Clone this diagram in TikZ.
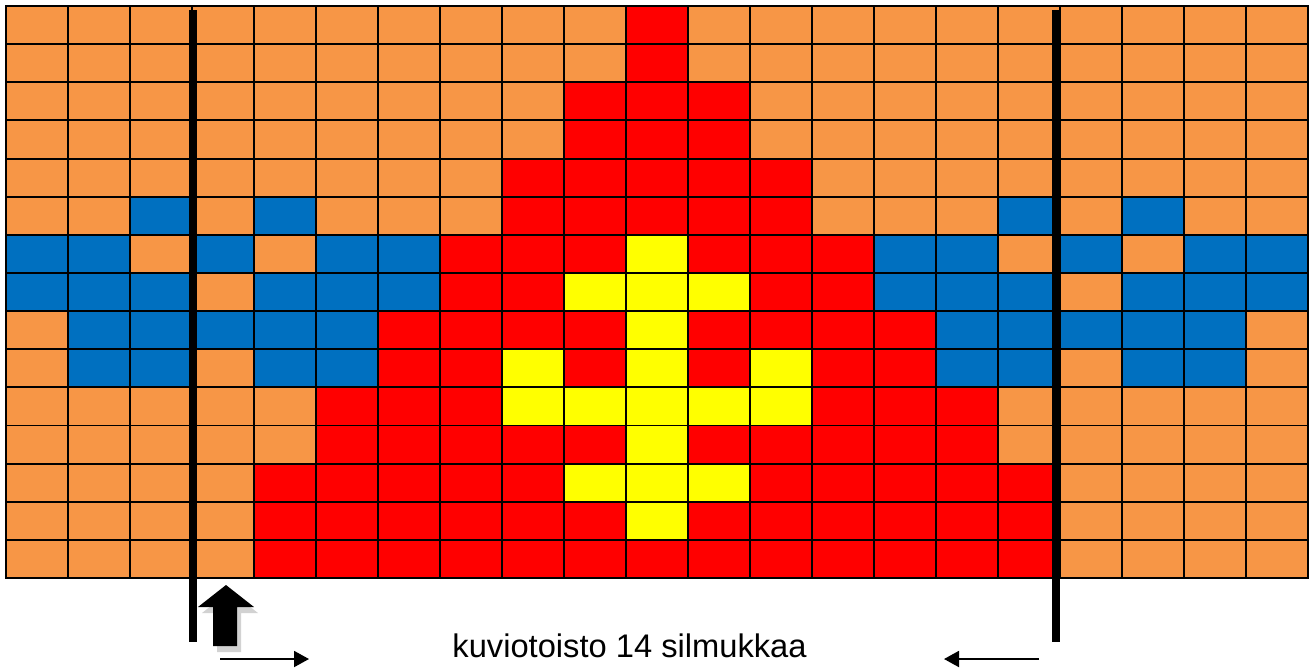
\documentclass[tikz,border=0pt]{standalone}
\usepackage{fontspec}
\setmainfont{Liberation Sans}
\usepackage{xcolor}
\usetikzlibrary{arrows.meta}
\definecolor{cO}{HTML}{F79646}
\definecolor{cB}{HTML}{0070C0}
\definecolor{cR}{HTML}{FF0000}
\definecolor{cY}{HTML}{FFFF00}
\tikzset{
  cell/.style={draw=black,line width=1.1pt},
  repline/.style={draw=black,line width=4.5pt},
  dirarrow/.style={-{Triangle[length=0.3cm,width=0.32cm]},draw=black,line width=1.1pt},
  caption/.style={font=\fontsize{18.6}{22}\selectfont,anchor=base}
}

\begin{document}
\begin{tikzpicture}[x=0.02cm,y=-0.02cm]
  \useasboundingbox (0,0) rectangle (1314,670);
  \foreach \row [count=\r from 0] in {
    {O,O,O,O,O,O,O,O,O,O,R,O,O,O,O,O,O,O,O,O,O},
    {O,O,O,O,O,O,O,O,O,O,R,O,O,O,O,O,O,O,O,O,O},
    {O,O,O,O,O,O,O,O,O,R,R,R,O,O,O,O,O,O,O,O,O},
    {O,O,O,O,O,O,O,O,O,R,R,R,O,O,O,O,O,O,O,O,O},
    {O,O,O,O,O,O,O,O,R,R,R,R,R,O,O,O,O,O,O,O,O},
    {O,O,B,O,B,O,O,O,R,R,R,R,R,O,O,O,B,O,B,O,O},
    {B,B,O,B,O,B,B,R,R,R,Y,R,R,R,B,B,O,B,O,B,B},
    {B,B,B,O,B,B,B,R,R,Y,Y,Y,R,R,B,B,B,O,B,B,B},
    {O,B,B,B,B,B,R,R,R,R,Y,R,R,R,R,B,B,B,B,B,O},
    {O,B,B,O,B,B,R,R,Y,R,Y,R,Y,R,R,B,B,O,B,B,O},
    {O,O,O,O,O,R,R,R,Y,Y,Y,Y,Y,R,R,R,O,O,O,O,O},
    {O,O,O,O,O,R,R,R,R,R,Y,R,R,R,R,R,O,O,O,O,O},
    {O,O,O,O,R,R,R,R,R,Y,Y,Y,R,R,R,R,R,O,O,O,O},
    {O,O,O,O,R,R,R,R,R,R,Y,R,R,R,R,R,R,O,O,O,O},
    {O,O,O,O,R,R,R,R,R,R,R,R,R,R,R,R,R,O,O,O,O}} {
    \foreach \c [count=\k from 0] in \row {
      \filldraw[cell,fill=c\c] ({6+62*\k},{6+38.133*\r}) rectangle ++(62,38.133);
    }
  }
  \coordinate (lefttop) at (193,10);
  \coordinate (leftbot) at (193,642);
  \coordinate (righttop) at (1056,10);
  \coordinate (rightbot) at (1056,642);
  \draw[repline] (lefttop) -- (leftbot);
  \draw[repline] (righttop) -- (rightbot);
  \fill[gray!35] (230,591) -- (258,613) -- (241,613) -- (241,652) -- (217,652) -- (217,613) -- (202,613) -- cycle;
  \fill[black] (226,585) -- (254,607) -- (237,607) -- (237,646) -- (213,646) -- (213,607) -- (198,607) -- cycle;
  \coordinate (rstart) at (220,659);
  \coordinate (rend) at (309,659);
  \coordinate (lstart) at (1039,659);
  \coordinate (lend) at (944,659);
  \draw[dirarrow] (rstart) -- (rend);
  \draw[dirarrow] (lstart) -- (lend);
  \node[caption] (repeat) at (629.5,657) {kuviotoisto 14 silmukkaa};
\end{tikzpicture}
\end{document}
